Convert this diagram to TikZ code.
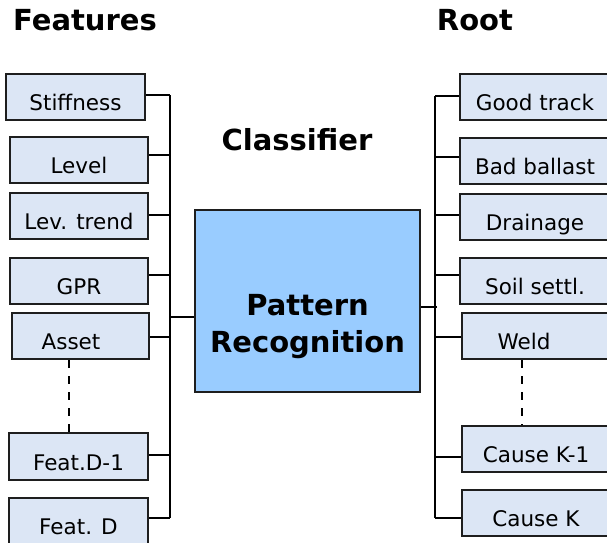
\documentclass[tikz,border=0pt]{standalone}
\usepackage{fontspec}
\setmainfont{DejaVu Sans}
\definecolor{boxfill}{RGB}{220,230,245}
\definecolor{prfill}{RGB}{153,204,255}
\definecolor{edge}{RGB}{30,30,30}
\begin{document}
\begin{tikzpicture}[x=1pt,y=-1pt,
  item/.style={draw=edge, line width=2pt, fill=boxfill, minimum height=46pt,
    inner sep=2pt, text height=27pt, text depth=0pt,
    font=\fontsize{21.5}{25}\selectfont},
  wire/.style={line width=2pt, draw=black},
  dots/.style={line width=2pt, draw=black, dash pattern=on 8pt off 8pt},
  bigtext/.style={anchor=base, font=\fontsize{29}{35}\selectfont\bfseries}]
\useasboundingbox (0,0) rectangle (607,542);

% headings
\node[bigtext] (hfeat) at (85,30) {Features};
\node[bigtext] (hroot) at (475,30) {Root};
\node[bigtext] (hcls) at (297,150) {Classifier};

% feature boxes
\node[item, minimum width=139pt] (stf) at (75.5,97) {Stiffness};
\node[item, minimum width=138pt] (lvl) at (79,160) {Level};
\node[item, minimum width=138pt] (ltr) at (79,216) {Lev. trend};
\node[item, minimum width=138pt] (gpr) at (79,281) {GPR};
\node[item, minimum width=137pt] (ast) at (80.5,336) {Asset\kern19pt};
\node[item, minimum width=139pt, minimum height=47pt] (fd1) at (78.5,456.5) {Feat.D-1};
\node[item, minimum width=139pt] (fdd) at (78.5,521) {Feat. D};

% classifier
\node[draw=edge, line width=2pt, fill=prfill, minimum width=225pt, minimum height=182pt, inner sep=0pt] (pr) at (307.5,301) {};
\node[bigtext] (pr1) at (307.5,315) {Pattern};
\node[bigtext] (pr2) at (307.5,352) {Recognition};

% root cause boxes
\node[item, minimum width=150pt] (gdt) at (535,97) {Good track};
\node[item, minimum width=150pt] (bbl) at (535,160.5) {Bad ballast};
\node[item, minimum width=150pt] (drn) at (535,216.5) {Drainage};
\node[item, minimum width=150pt] (sst) at (535,280.5) {Soil settl.};
\node[item, minimum width=148pt] (wld) at (536,336) {Weld\kern24pt};
\node[item, minimum width=148pt] (ck1) at (536,449) {Cause K-1};
\node[item, minimum width=148pt] (ckk) at (536,513) {Cause K};

% left bus
\coordinate (lt) at (170,95);
\coordinate (lb) at (170,518);
\draw[wire] (lt) -- (lb);
\draw[wire] ([yshift=2pt]stf.east) -- ([yshift=2pt]stf.east -| lt);
\draw[wire] ([yshift=5pt]lvl.east) -- ([yshift=5pt]lvl.east -| lt);
\draw[wire] ([yshift=1pt]ltr.east) -- ([yshift=1pt]ltr.east -| lt);
\draw[wire] ([yshift=6pt]gpr.east) -- ([yshift=6pt]gpr.east -| lt);
\draw[wire] ([yshift=-1pt]ast.east) -- ([yshift=-1pt]ast.east -| lt);
\draw[wire] ([yshift=1.5pt]fd1.east) -- ([yshift=1.5pt]fd1.east -| lt);
\draw[wire] ([yshift=3pt]fdd.east) -- ([yshift=3pt]fdd.east -| lt);
\draw[wire] ([yshift=-16pt]pr.west) -- ([yshift=-16pt]pr.west -| lt);

% right bus
\coordinate (rt) at (435,96);
\coordinate (rb) at (435,518);
\coordinate (rstub) at (437,307);
\draw[wire] (rt) -- (rb);
\draw[wire] ([yshift=-6pt]pr.east) -- ([yshift=-6pt]pr.east -| rstub);
\draw[wire] ([yshift=1pt]gdt.west) -- ([yshift=1pt]gdt.west -| rt);
\draw[wire] ([yshift=3.5pt]bbl.west) -- ([yshift=3.5pt]bbl.west -| rt);
\draw[wire] ([yshift=1.5pt]drn.west) -- ([yshift=1.5pt]drn.west -| rt);
\draw[wire] ([yshift=5.5pt]sst.west) -- ([yshift=5.5pt]sst.west -| rt);
\draw[wire] ([yshift=-1pt]wld.west) -- ([yshift=-1pt]wld.west -| rt);
\draw[wire] ([yshift=-8pt]ck1.west) -- ([yshift=-8pt]ck1.west -| rt);
\draw[wire] ([yshift=-5pt]ckk.west) -- ([yshift=-5pt]ckk.west -| rt);

% elided entries
\draw[dots] ([xshift=-11.5pt]ast.south) -- ([xshift=-11.5pt]ast.south |- fd1.north);
\draw[dots] ([xshift=-14pt]wld.south) -- ([xshift=-14pt]wld.south |- ck1.north);
\end{tikzpicture}
\end{document}
